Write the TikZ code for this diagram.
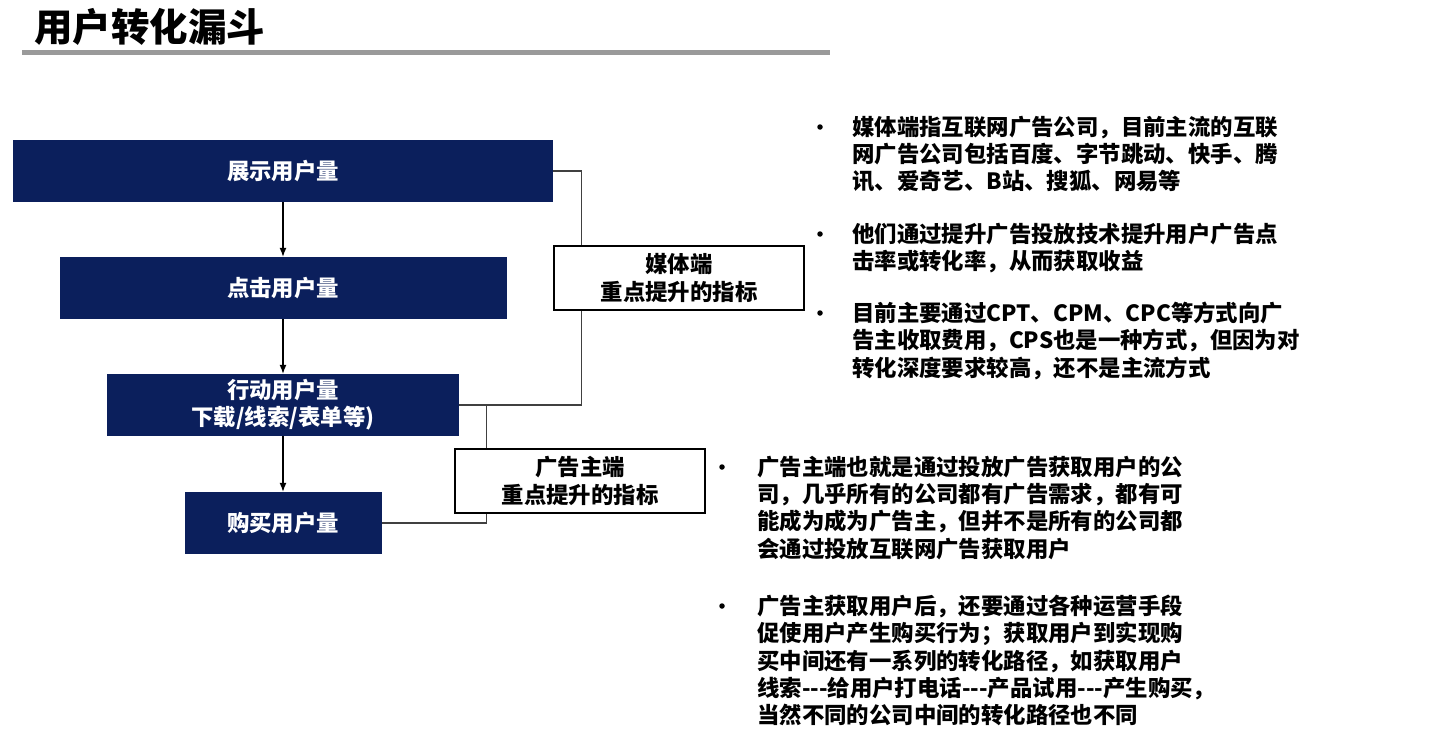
\documentclass[tikz,border=0pt]{standalone}
\usepackage{fontspec}
\setmainfont{Noto Sans CJK SC}[Ligatures=TeXOff]
\usetikzlibrary{arrows.meta,positioning}
\definecolor{funnelblue}{HTML}{0B1F5C}
\definecolor{rulegray}{HTML}{9A9A9A}
\definecolor{linkgray}{HTML}{404040}

\begin{document}
\begin{tikzpicture}[x=1pt,y=-1pt,>=Latex,
  every node/.style={font=\fontsize{22.4}{27.2}\selectfont\bfseries},
  stage/.style={fill=funnelblue,text=white,minimum height=62pt,align=center,inner sep=0pt},
  focus/.style={draw=black,line width=1.5pt,fill=white,minimum width=250pt,minimum height=64pt,align=center,inner sep=0pt},
  link/.style={draw=linkgray,line width=1.5pt},
  flow/.style={->,line width=1.2pt,>={Latex[length=9pt,width=7pt]}},
  note/.style={anchor=north west,align=left,inner sep=0pt},
  dot/.style={circle,fill=black,inner sep=0pt,minimum size=5.5pt}]

\useasboundingbox (0,0) rectangle (1440,747);

% title and rule
\node[anchor=west,font=\fontsize{38.5}{40}\selectfont\bfseries,inner sep=0pt] (title) at (34,27) {用户转化漏斗};
\fill[rulegray] (22,50) rectangle (830,55);

% funnel stages
\node[stage,minimum width=540pt] (show) at (283,171) {展示用户量};
\node[stage,minimum width=447pt] (click) at (283,288) {点击用户量};
\node[stage,minimum width=352pt] (act) at (283,405) {行动用户量\\下载/线索/表单等)};
\node[stage,minimum width=197pt] (buy) at (283,523) {购买用户量};

\draw[flow] (show) -- (click);
\draw[flow] (click) -- (act);
\draw[flow] (act) -- (buy);

% focus boxes
\node[focus] (media) at (679,278) {媒体端\\重点提升的指标};
\node[focus] (adv) at (580,481) {广告主端\\重点提升的指标};

% media side bracket: show -> act
\coordinate (medialane) at ([xshift=28pt]media.north west);
\draw[link] (show.east) -| (medialane);
\draw[link] (medialane |- media.south) |- (act.east);

% advertiser side bracket: act -> buy
\coordinate (advlane) at ([xshift=32pt]adv.north west);
\draw[link] (act.east -| advlane) -- (advlane);
\draw[link] (advlane |- adv.south) |- (buy.east);

% media notes
\node[dot] (m1dot) at (820,127) {};
\node[note] (m1) at (852,116) {媒体端指互联网广告公司，目前主流的互联\\网广告公司包括百度、字节跳动、快手、腾\\讯、爱奇艺、B站、搜狐、网易等};
\node[dot] (m2dot) at (820,234) {};
\node[note] (m2) at (852,223) {他们通过提升广告投放技术提升用户广告点\\击率或转化率，从而获取收益};
\node[dot] (m3dot) at (820,313) {};
\node[note] (m3) at (852,302) {目前主要通过CPT、CPM、CPC等方式向广\\告主收取费用，CPS也是一种方式，但因为对\\转化深度要求较高，还不是主流方式};

% advertiser notes
\node[dot] (a1dot) at (722,467) {};
\node[note] (a1) at (757,456) {广告主端也就是通过投放广告获取用户的公\\司，几乎所有的公司都有广告需求，都有可\\能成为成为广告主，但并不是所有的公司都\\会通过投放互联网广告获取用户};
\node[dot] (a2dot) at (722,606) {};
\node[note] (a2) at (757,595) {广告主获取用户后，还要通过各种运营手段\\促使用户产生购买行为；获取用户到实现购\\买中间还有一系列的转化路径，如获取用户\\线索---给用户打电话---产品试用---产生购买，\\当然不同的公司中间的转化路径也不同};

\end{tikzpicture}
\end{document}
